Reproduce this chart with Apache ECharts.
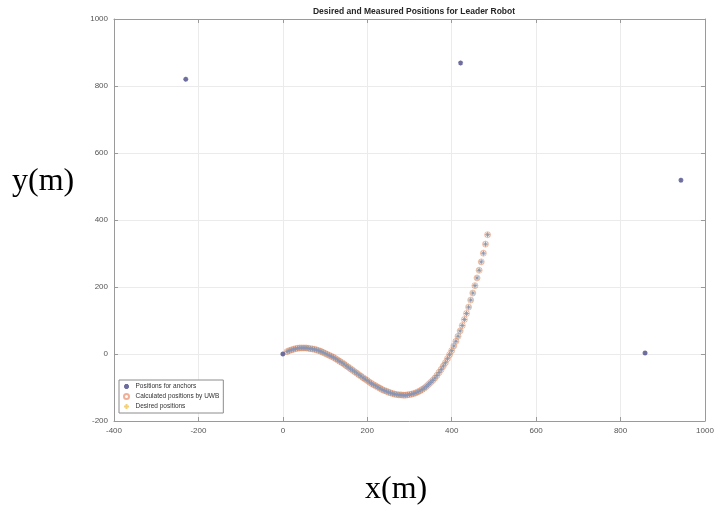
<!DOCTYPE html>
<html>
<head>
<meta charset="utf-8">
<script src="https://cdn.jsdelivr.net/npm/echarts@6/dist/echarts.min.js"></script>
<style>
  html, body { margin: 0; padding: 0; background: #fff; }
  #chart { width: 720px; height: 507px; }
</style>
</head>
<body>
<div id="chart"></div>
<script>
// Anchor (beacon) positions in metres
const anchorX = [-230, 421, 943, 858, 0];
const anchorY = [820, 869, 519, 3, 0];

// Leader robot path samples (x, y in metres)
const pathX = [10, 15, 20, 25, 30, 35, 40, 45, 50, 55, 60, 65, 70, 75, 80, 85, 90, 95, 100, 105,
  110, 115, 120, 125, 130, 135, 140, 145, 150, 155, 160, 165, 170, 175, 180, 185, 190, 195, 200, 205,
  210, 215, 220, 225, 230, 235, 240, 245, 250, 255, 260, 265, 270, 275, 280, 285, 290, 295, 300, 305,
  310, 315, 320, 325, 330, 335, 340, 345, 350, 355, 360, 365, 370, 375, 380, 385, 390, 395, 400, 405,
  410, 415, 420, 425, 430, 435, 440, 445, 450, 455, 460, 465, 470, 475, 480, 485];
const pathY = [7, 10, 12, 14, 16, 17, 18, 18, 18, 18, 17, 16, 15, 14, 12, 10, 8, 5, 2, -1,
  -4, -7, -10, -14, -18, -22, -26, -30, -35, -39, -44, -48, -53, -57, -62, -66, -71, -75, -79, -84,
  -88, -92, -95, -99, -102, -106, -109, -111, -114, -116, -118, -120, -121, -122, -122, -123, -123, -122, -121, -120,
  -118, -116, -113, -110, -106, -102, -97, -91, -85, -79, -72, -64, -55, -46, -36, -26, -14, -2, 10, 24,
  38, 53, 69, 85, 103, 121, 140, 161, 182, 204, 227, 250, 275, 301, 328, 356];

// Axis tick values
const xTicks = [-400, -200, 0, 200, 400, 600, 800, 1000];
const yTicks = [-200, 0, 200, 400, 600, 800, 1000];

const ORANGE = '#D95319';
const YELLOW = '#EDB120';

const asterisk = 'path://M5,0L5,10M0,5L10,5M1.5,1.5L8.5,8.5M8.5,1.5L1.5,8.5';
const plus = 'path://M5,0L5,10M0,5L10,5';

const zip = (xs, ys) => xs.map((x, i) => [x, ys[i]]);
const anchors = zip(anchorX, anchorY);
const path = zip(pathX, pathY);

const chart = echarts.init(document.getElementById('chart'), null, { renderer: 'canvas' });

const axisText = { color: '#555', fontSize: 8, fontFamily: 'Liberation Sans, Arial, sans-serif',
  formatter: v => String(v) };
const frameLine = { show: true, onZero: false, lineStyle: { color: '#9a9a9a', width: 1 } };
const innerTick = { show: true, inside: true, length: 4, lineStyle: { color: '#9a9a9a' } };

chart.setOption({
  backgroundColor: '#ffffff',
  animation: false,
  title: {
    text: 'Desired and Measured Positions for Leader Robot',
    left: 409, top: 2, textAlign: 'center',
    textStyle: { fontSize: 8.5, fontWeight: 'bold', color: '#262626', fontFamily: 'Liberation Sans, Arial, sans-serif' }
  },
  grid: { left: 114, right: 15, top: 19, bottom: 86, containLabel: false },
  xAxis: [{
    type: 'value', min: xTicks[0], max: xTicks[xTicks.length - 1], interval: 200,
    axisLine: frameLine, axisTick: innerTick,
    axisLabel: Object.assign({ margin: 6 }, axisText),
    splitLine: { show: true, lineStyle: { color: '#ebebeb', width: 1 } }
  }, {
    type: 'value', position: 'top', min: xTicks[0], max: xTicks[xTicks.length - 1], interval: 200,
    axisLine: frameLine, axisTick: innerTick, axisLabel: { show: false }, splitLine: { show: false }
  }],
  yAxis: [{
    type: 'value', min: yTicks[0], max: yTicks[yTicks.length - 1], interval: 200,
    axisLine: frameLine, axisTick: innerTick,
    axisLabel: Object.assign({ margin: 6 }, axisText),
    splitLine: { show: true, lineStyle: { color: '#ebebeb', width: 1 } }
  }, {
    type: 'value', position: 'right', min: yTicks[0], max: yTicks[yTicks.length - 1], interval: 200,
    axisLine: frameLine, axisTick: innerTick, axisLabel: { show: false }, splitLine: { show: false }
  }],
  legend: {
    orient: 'vertical', left: 119, top: 380,
    data: ['Positions for anchors', 'Calculated positions by UWB', 'Desired positions'],
    itemWidth: 8, itemHeight: 5, itemGap: 3,
    padding: [3, 4, 3, 4],
    borderColor: '#8c8c8c', borderWidth: 1, borderRadius: 0,
    backgroundColor: '#ffffff',
    textStyle: { fontSize: 6.5, color: '#333', fontFamily: 'Liberation Sans, Arial, sans-serif' }
  },
  graphic: [
    { type: 'text', left: 12, top: 166,
      style: { text: 'y(m)', fontSize: 32, fontFamily: 'Liberation Serif, Times New Roman, serif', fill: '#000' } },
    { type: 'text', left: 365, top: 474,
      style: { text: 'x(m)', fontSize: 32, fontFamily: 'Liberation Serif, Times New Roman, serif', fill: '#000' } }
  ],
  series: [
    {
      name: 'Positions for anchors', type: 'scatter', data: anchors,
      symbol: asterisk, symbolSize: 5,
      itemStyle: { color: 'rgba(0,0,0,0)', borderColor: '#4a4a86', borderWidth: 1.4 },
      z: 5
    },
    {
      name: 'Measured positions', type: 'scatter', data: path,
      symbol: asterisk, symbolSize: 5,
      itemStyle: { color: 'rgba(0,0,0,0)', borderColor: '#8593bb', borderWidth: 1 },
      z: 4
    },
    {
      name: 'Calculated positions by UWB', type: 'scatter', data: path,
      symbol: 'circle', symbolSize: 6,
      itemStyle: { color: 'rgba(0,0,0,0)', borderColor: ORANGE, borderWidth: 0.8, opacity: 0.45 },
      z: 3
    },
    {
      name: 'Desired positions', type: 'scatter', data: path,
      symbol: plus, symbolSize: 5,
      itemStyle: { color: 'rgba(0,0,0,0)', borderColor: YELLOW, borderWidth: 1, opacity: 0.6 },
      z: 3
    }
  ]
});
</script>
</body>
</html>
